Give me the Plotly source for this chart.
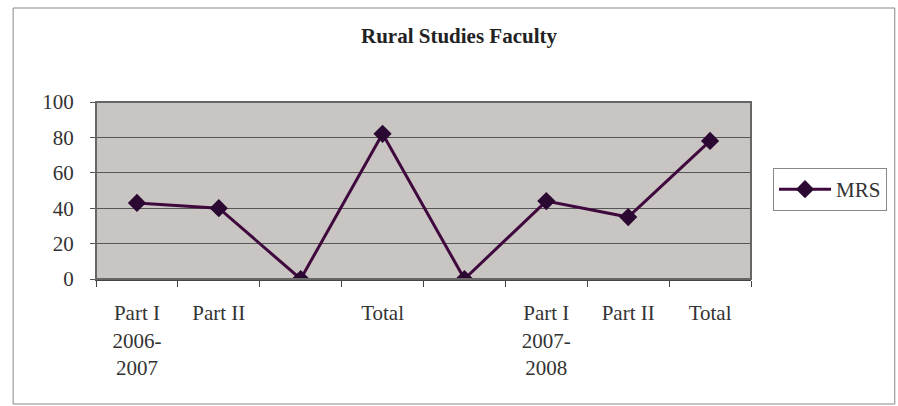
import plotly.graph_objects as go

categories = ["Part I<br>2006-<br>2007", "Part II", "", "Total", "", "Part I<br>2007-<br>2008", "Part II", "Total"]
mrs_values = [43, 40, 0, 82, 0, 44, 35, 78]
y_ticks = [0, 20, 40, 60, 80, 100]

xs = list(range(len(categories)))

fig = go.Figure()
fig.add_trace(go.Scatter(
    x=xs, y=mrs_values, mode="lines+markers", name="MRS",
    line=dict(color="#40093e", width=3),
    marker=dict(symbol="diamond", size=14, color="#2a0832",
                line=dict(color="#2a0832", width=0)),
))

W, H = 898, 406
L, R, T, B = 96, 146, 102, 127
pw, ph = W - L - R, H - T - B

fig.update_layout(
    width=W, height=H,
    margin=dict(l=L, r=R, t=T, b=B),
    paper_bgcolor="white",
    plot_bgcolor="#c9c5c3",
    title=dict(text="<b>Rural Studies Faculty</b>", x=459 / W, xanchor="center",
               y=1 - 36 / H, yanchor="middle",
               font=dict(family="Liberation Serif", size=21, color="#222")),
    font=dict(family="Liberation Serif", size=21, color="#333"),
    showlegend=True,
    legend=dict(x=(773 - L) / pw, xanchor="left", y=(H - B - 189.5) / ph, yanchor="middle",
                bordercolor="#888", borderwidth=1, bgcolor="white",
                font=dict(family="Liberation Serif", size=21, color="#333"),
                itemwidth=52),
    xaxis=dict(
        range=[-0.5, len(categories) - 0.5],
        tickmode="array", tickvals=xs, ticktext=categories,
        ticks="", showgrid=False, zeroline=False,
        showline=True, linecolor="#444", linewidth=2, mirror=False,
        minor=dict(tickmode="linear", tick0=-0.5, dtick=1, ticks="outside",
                   ticklen=6, tickcolor="#444", tickwidth=1, showgrid=False),
        tickfont=dict(family="Liberation Serif", size=21, color="#333"),
        ticklabelstandoff=14,
        fixedrange=True,
    ),
    yaxis=dict(
        range=[0, 100], tickvals=y_ticks,
        showgrid=True, gridcolor="#555", gridwidth=1.2,
        zeroline=False, showline=True, linecolor="#666", linewidth=1,
        ticks="outside", ticklen=5, tickcolor="#555",
        tickfont=dict(family="Liberation Serif", size=21, color="#333"),
        ticklabelstandoff=12,
        fixedrange=True,
    ),
    shapes=[
        dict(type="rect", xref="paper", yref="paper",
             x0=0, x1=1, y0=0, y1=1,
             line=dict(color="#666", width=2), fillcolor="rgba(0,0,0,0)", layer="above"),
        dict(type="rect", xref="paper", yref="paper",
             x0=(13 - L) / pw, x1=(896 - L) / pw,
             y0=(H - B - 404) / ph, y1=(H - B - 8) / ph,
             line=dict(color="#888", width=1), fillcolor="rgba(0,0,0,0)"),
    ],
)

fig.write_html("out.html", config={"displayModeBar": False})

with open("out.html", "r", encoding="utf-8") as f:
    html = f.read()
html = html.replace("<head>", "<head><style>html,body{margin:0;padding:0;overflow:hidden;}</style>", 1)
with open("out.html", "w", encoding="utf-8") as f:
    f.write(html)
